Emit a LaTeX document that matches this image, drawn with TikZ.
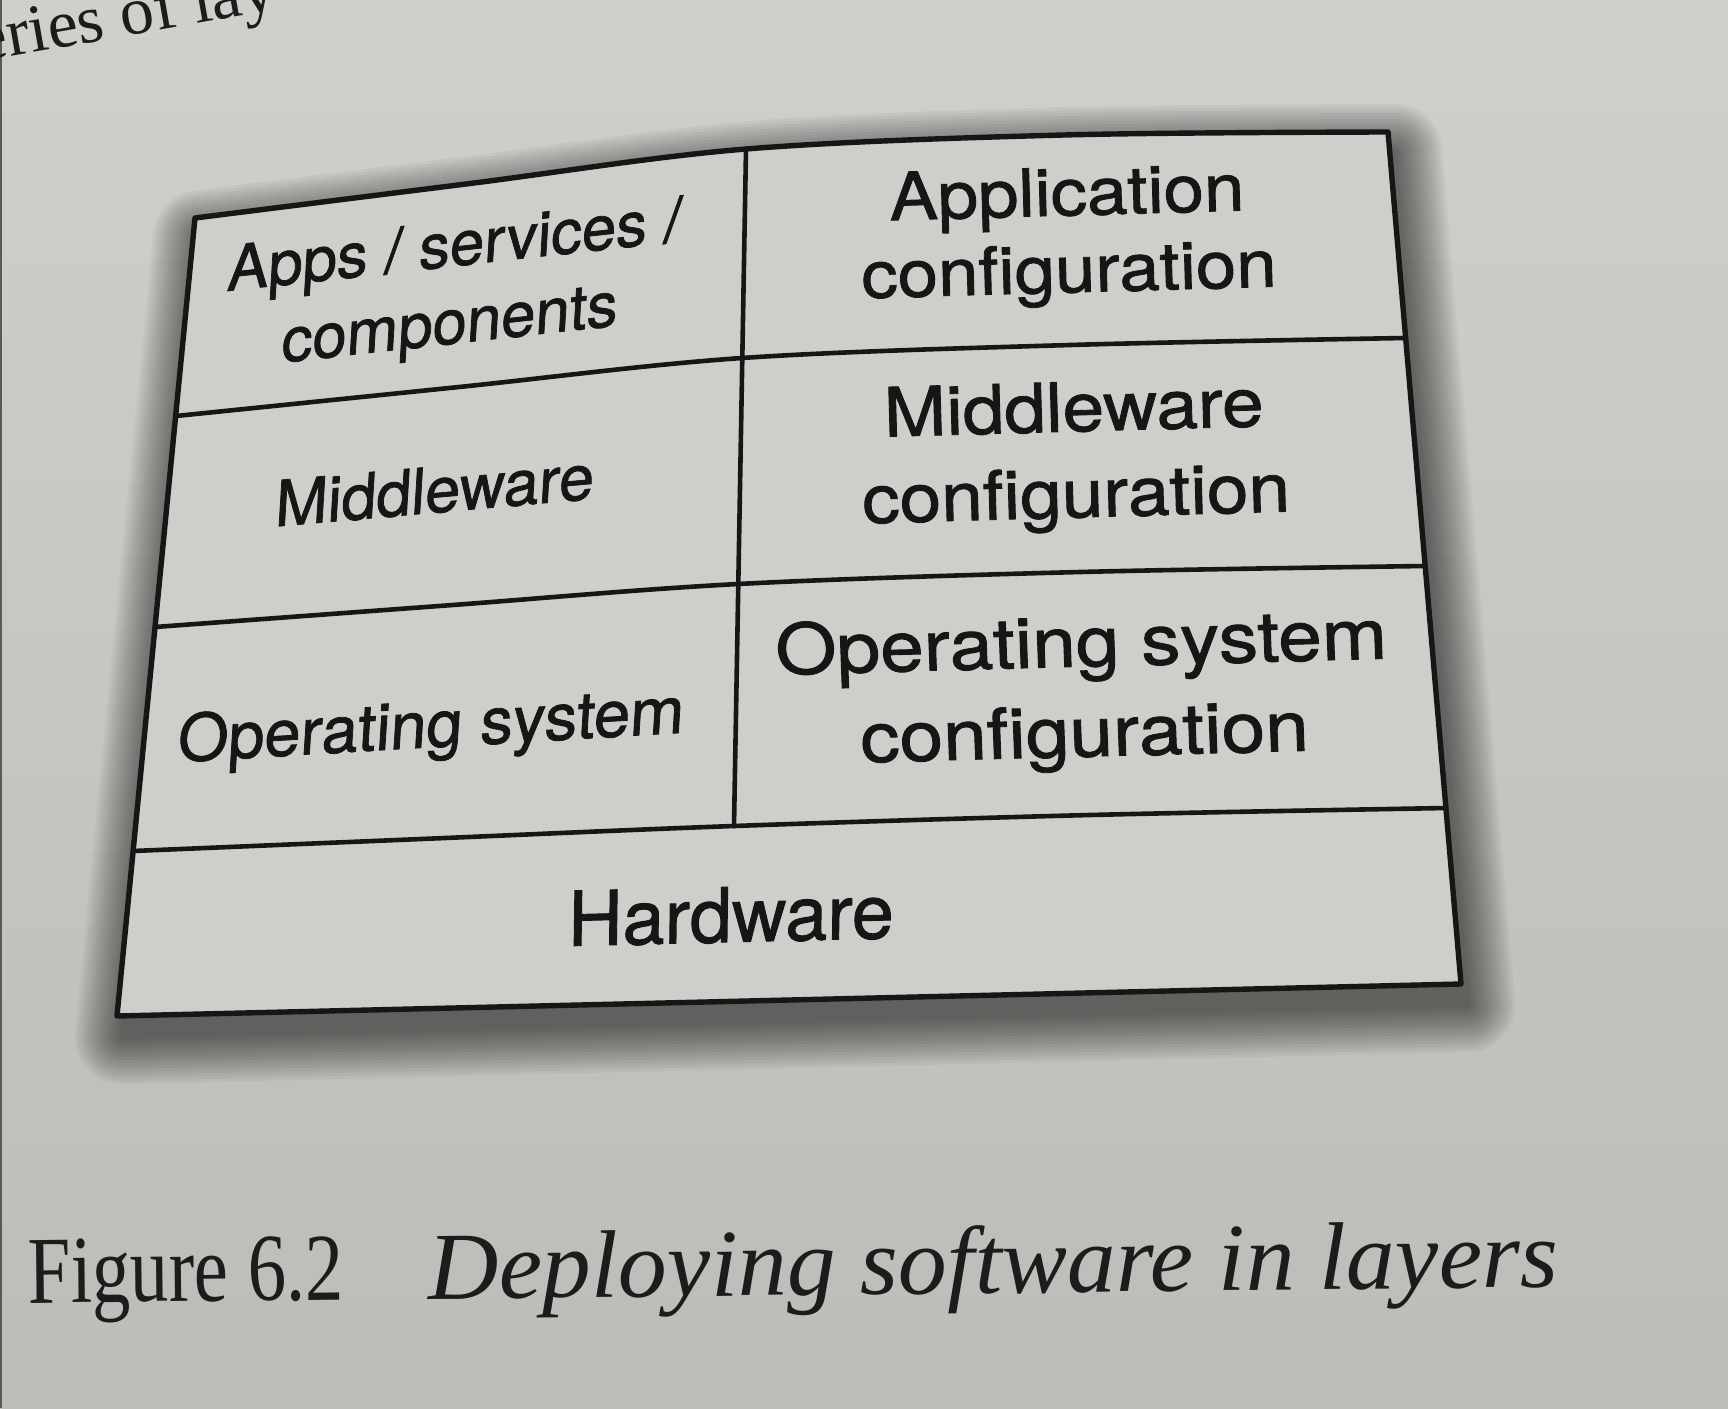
\documentclass[tikz,border=0pt]{standalone}
\usepackage{fontspec}
\setmainfont{Liberation Serif}
\newfontfamily\heros[FakeBold=1.2]{TeX Gyre Heros}
\definecolor{papertop}{RGB}{207,207,203}
\definecolor{paperbot}{RGB}{188,188,184}
\definecolor{boxc}{RGB}{206,206,202}
\definecolor{inkc}{RGB}{22,22,22}
\definecolor{printc}{RGB}{28,28,28}

% outline of the layered box (slightly bent page)
\newcommand\boxoutline[1]{%
  \path[#1] plot[smooth, tension=0.55] coordinates
    {(195,218) (470,183.5) (746,149) (1064,135) (1388,132)}
    -- (1461,984) -- (117,1016) -- cycle;}

\begin{document}
\begin{tikzpicture}[x=0.5pt,y=-0.5pt,
  rulel/.style={draw=inkc, line width=2.3pt, line cap=round, line join=round},
  lbl/.style={text=inkc, align=center, inner sep=0pt, anchor=center},
  printtxt/.style={text=printc, inner sep=0pt, anchor=base west},
]
\useasboundingbox (0,0) rectangle (1728,1408);
\clip (0,0) rectangle (1728,1408);

% paper
\shade[top color=papertop, bottom color=paperbot] (0,0) rectangle (1728,1408);
\fill[black!65] (0,0) rectangle (2,1408);

% running text cut off at the top of the page
\node[printtxt, font=\fontsize{34}{40}\selectfont, rotate=10] (frag) at (-20,62) {eries of lay};

% soft drop shadow
\foreach \r in {3,6,...,48} {
  \begin{scope}[shift={(6,20)}, transparency group, opacity=0.038]
    \boxoutline{fill=black, draw=black, line width=\r pt, line join=round}
  \end{scope}
}

% box body
\boxoutline{fill=boxc}

% corner points of the grid
\coordinate (tm) at (746,149);
\coordinate (r3m) at (734,826);

% row rules
\draw[rulel] plot[smooth, tension=0.55] coordinates
  {(176,416) (459,387) (742,358) (1070,345) (1405,338)};
\draw[rulel] plot[smooth, tension=0.55] coordinates
  {(155,627) (446,605.5) (738,584) (1080,572) (1425,566)};
\draw[rulel] plot[smooth, tension=0.55] coordinates
  {(133,851) (433,838.5) (734,826) (1090,815) (1446,808)};
% column divider
\draw[rulel] (tm) -- (r3m);

% frame
\boxoutline{draw=inkc, line width=2.7pt, line join=round}

% cell labels
\node[lbl, font={\heros\fontsize{31}{38.5}\selectfont}, rotate=6.3, xslant=0.171]
  (apps) at (452,289) {Apps / services /\\components};
\node[lbl, font={\heros\fontsize{33}{38.5}\selectfont}, rotate=1.6, xscale=1.1]
  (appcfg) at (1068,237) {Application\\configuration};
\node[lbl, font={\heros\fontsize{31.5}{38}\selectfont}, rotate=5.0, xslant=0.149]
  (mw) at (435,490) {Middleware};
\node[lbl, font={\heros\fontsize{34}{43}\selectfont}, rotate=1.6, xscale=1.1]
  (mwcfg) at (1075,457) {Middleware\\configuration};
\node[lbl, font={\heros\fontsize{32.5}{39}\selectfont}, rotate=3.3, xslant=0.121]
  (os) at (431,730) {Operating system};
\node[lbl, font={\heros\fontsize{35}{45}\selectfont}, rotate=1.5, xslant=-0.01, xscale=1.12]
  (oscfg) at (1083,693) {Operating system\\configuration};
\node[lbl, font={\heros\fontsize{37.8}{45}\selectfont}, rotate=1.4, xslant=0.038]
  (hw) at (731,915) {Hardware};

% caption
\node[printtxt, font=\fontsize{48}{58}\selectfont, rotate=0.6, xscale=0.8]
  (fignum) at (28,1303) {Figure 6.2};
\node[printtxt, font=\itshape\fontsize{48}{58}\selectfont, rotate=0.6, xscale=1.02]
  (figtitle) at (428,1299) {Deploying software in layers};
\end{tikzpicture}
\end{document}
